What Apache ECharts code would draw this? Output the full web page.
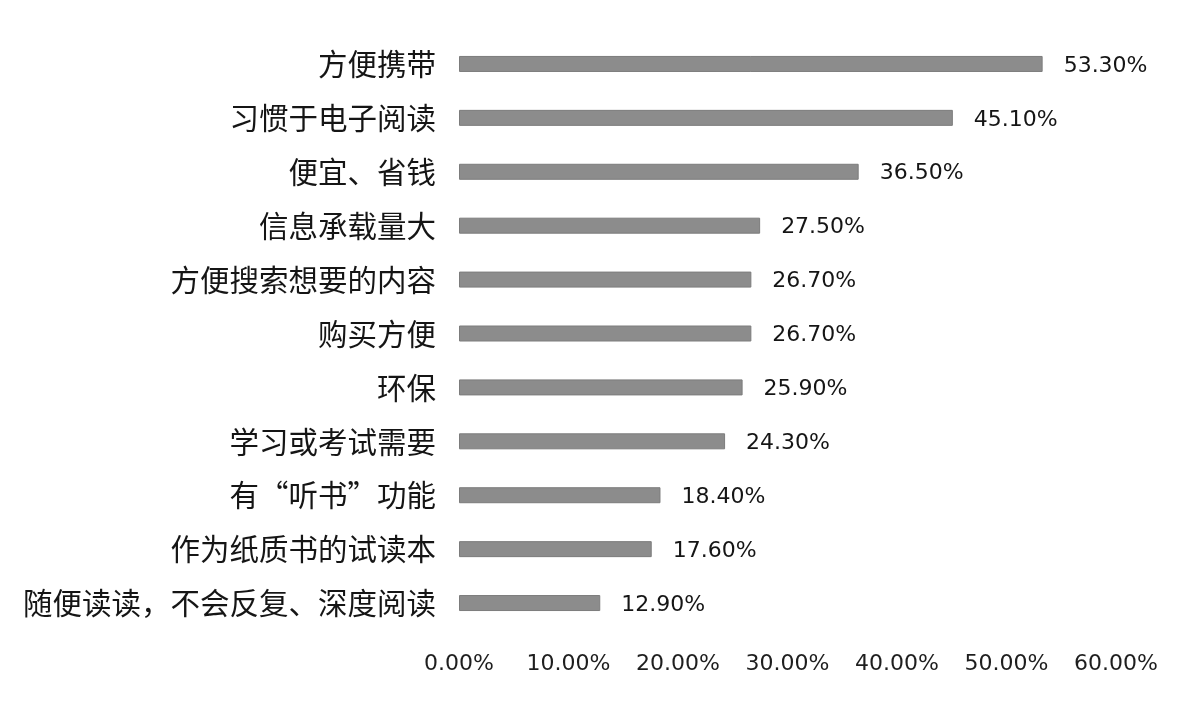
<!DOCTYPE html>
<html>
<head>
<meta charset="utf-8">
<script src="https://cdn.jsdelivr.net/npm/echarts@6/dist/echarts.min.js"></script>
<style>
  html, body { margin: 0; padding: 0; background: #ffffff; }
  #chart { width: 1181px; height: 711px; }
</style>
</head>
<body>
<div id="chart"></div>
<script>
// Reasons for choosing e-reading (share of respondents, %)
const categories = [
  '方便携带',
  '习惯于电子阅读',
  '便宜、省钱',
  '信息承载量大',
  '方便搜索想要的内容',
  '购买方便',
  '环保',
  '学习或考试需要',
  '有“听书”功能',
  '作为纸质书的试读本',
  '随便读读，不会反复、深度阅读'
];
const values = [53.3, 45.1, 36.5, 27.5, 26.7, 26.7, 25.9, 24.3, 18.4, 17.6, 12.9];
const axisMin = 0;
const axisMax = 60;
const axisStep = 10;

const chart = echarts.init(document.getElementById('chart'), null, { renderer: 'canvas' });

chart.setOption({
  backgroundColor: '#ffffff',
  animation: false,
  grid: { left: 459, right: 65, top: 37, bottom: 81, containLabel: false },
  xAxis: {
    type: 'value',
    min: axisMin,
    max: axisMax,
    interval: axisStep,
    axisLine: { show: false },
    axisTick: { show: false },
    splitLine: { show: false },
    axisLabel: {
      margin: 23,
      color: '#1e1e1e',
      fontFamily: 'DejaVu Sans',
      fontSize: 22,
      formatter: v => v.toFixed(2) + '%'
    }
  },
  yAxis: {
    type: 'category',
    data: categories,
    inverse: true,
    axisLine: { show: false },
    axisTick: { show: false },
    splitLine: { show: false },
    axisLabel: {
      margin: 23,
      color: '#151515',
      fontFamily: 'Noto Sans CJK SC',
      fontSize: 29.5
    }
  },
  series: [{
    type: 'bar',
    data: values,
    barWidth: 16,
    itemStyle: { color: '#8c8c8c', borderColor: '#7c7c7c', borderWidth: 1 },
    label: {
      show: true,
      position: 'right',
      distance: 21,
      color: '#151515',
      fontFamily: 'DejaVu Sans',
      fontSize: 22,
      offset: [0, 2],
      formatter: p => p.value.toFixed(2) + '%'
    }
  }]
});
</script>
</body>
</html>
